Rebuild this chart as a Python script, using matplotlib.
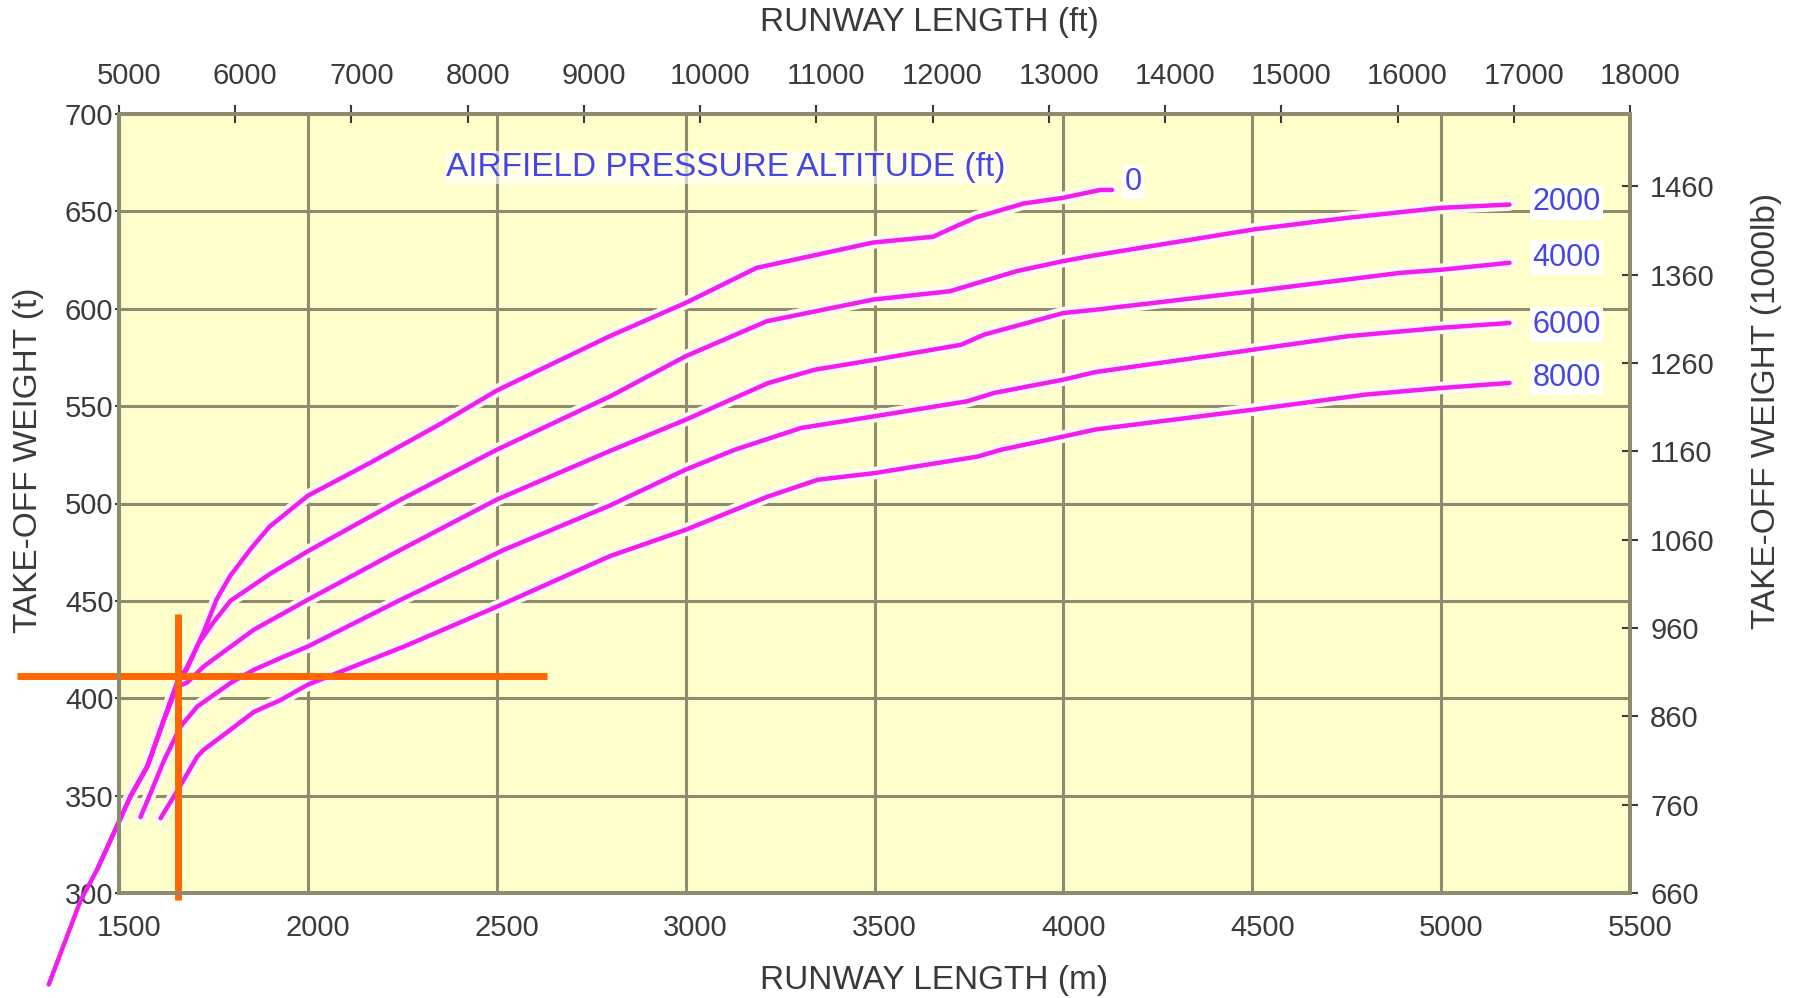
import numpy as np
import matplotlib
matplotlib.use("Agg")
import matplotlib.pyplot as plt
from matplotlib.transforms import ScaledTranslation

plt.rcParams["font.family"] = ["Liberation Sans", "DejaVu Sans"]

# ---------------- data (runway length m, take-off weight t) ----------------
ALTITUDES = ["0", "2000", "4000", "6000", "8000"]

M_0 = [1314, 1398, 1442, 1502, 1530, 1575, 1619, 1654, 1680, 1724, 1759, 1795, 1850, 1898,
       2000, 2166, 2352, 2500, 2800, 3000, 3188, 3496, 3656, 3700, 3770, 3894, 4000, 4097, 4129]
T_0 = [253, 296, 312, 337.5, 349.5, 365, 389, 408, 415, 434, 451, 463, 477, 488,
       504, 521, 541, 558, 586, 603, 621, 634, 637, 641, 647, 654, 657, 661, 661]

M_2000 = [1442, 1502, 1530, 1575, 1619, 1654, 1680, 1710, 1750, 1795, 1901, 2000, 2246, 2500,
          2800, 3000, 3215, 3496, 3700, 3744, 3876, 3998, 4085, 4503, 4753, 4999, 5181]
T_2000 = [312, 337.5, 349.5, 365, 389, 408, 416, 428, 439, 450, 464, 475.5, 502, 527.6,
          555, 575.6, 593.6, 604.7, 609, 611.6, 619.3, 624.4, 627.5, 640.7, 646.7, 651.8, 653.5]

M_4000 = [1530, 1575, 1619, 1654, 1680, 1724, 1857, 2000, 2246, 2500, 2800, 3000, 3218, 3342,
          3500, 3729, 3790, 4000, 4085, 4503, 4890, 4999, 5181]
T_4000 = [349.5, 365, 389, 406, 408, 416.3, 435.2, 450.6, 476.3, 502, 527, 543, 561.8, 568.7,
          573.8, 581.5, 586.7, 597.8, 599.5, 609, 618.4, 620, 623.6]

M_6000 = [1557, 1583, 1619, 1663, 1707, 1795, 1857, 1927, 2000, 2246, 2520, 2800, 3000, 3130,
          3306, 3500, 3746, 3817, 4000, 4085, 4503, 4753, 4999, 5181]
T_6000 = [339, 351, 368, 385.5, 395.7, 407.8, 414.6, 420.6, 426.6, 450.6, 476.3, 499, 517.4, 527.6,
          538.8, 544.8, 552.5, 556.8, 563.6, 567.5, 579, 585.9, 590.2, 592.7]

M_8000 = [1610, 1645, 1671, 1707, 1724, 1795, 1857, 1927, 2000, 2255, 2500, 2800, 3000, 3218,
          3350, 3500, 3773, 3835, 4000, 4085, 4503, 4799, 4999, 5181]
T_8000 = [338.4, 349.5, 358, 370, 373.5, 383.8, 393, 399, 407, 426.6, 447, 473, 486.5, 503.6,
          512.2, 515.6, 524.1, 527.6, 534.4, 538, 548.2, 555.9, 559.3, 561.9]

CURVES = [(M_0, T_0), (M_2000, T_2000), (M_4000, T_4000), (M_6000, T_6000), (M_8000, T_8000)]
LABEL_M = [4184, 5332, 5332, 5332, 5332]
LABEL_T = [665, 654.6, 626.3, 591.9, 564.6]

# reading example (orange cross)
EX_M = 1657
EX_T = 411.5
EX_M_SPAN = [1231, 2634]
EX_T_SPAN = [296.4, 443.4]

X_TICKS_M = list(range(1500, 5501, 500))
Y_TICKS_T = list(range(300, 701, 50))
X_TICKS_FT = list(range(5000, 18001, 1000))
Y_TICKS_KLB = list(range(660, 1461, 100))

# ---------------- styles ----------------
BG = "#FFFFCC"
GRIDC = "#8C8C6E"
MAG = "#F01CF0"
BLUE = "#4646E6"
ORANGE = "#FF6600"
TXT = "#3A3A3A"

fig = plt.figure(figsize=(17.93, 9.98), dpi=100)
ax = fig.add_axes([119 / 1793, 1 - 893 / 998, (1630 - 119) / 1793, (893 - 114) / 998])
ax.set_facecolor(BG)
ax.set_xlim(1500, 5500)
ax.set_ylim(300, 700)
ax.set_xticks(X_TICKS_M)
ax.set_yticks(Y_TICKS_T)
ax.grid(color=GRIDC, lw=2.2, zorder=1)
ax.set_axisbelow(True)
ax.tick_params(axis="x", length=0, pad=15, labelsize=21, labelcolor=TXT)
ax.tick_params(axis="y", length=3, width=1.5, color=TXT, pad=1, labelsize=21, labelcolor=TXT)
for sp in ax.spines.values():
    sp.set_color(GRIDC)
    sp.set_linewidth(2.6)

# halos under the curves (erase grid a bit, like the scan)
for m, t in CURVES:
    ax.plot(m, t, color="#FFF8F0", lw=9, solid_capstyle="round", zorder=2)
for m, t in CURVES:
    ax.plot(m, t, color=MAG, lw=3.2, solid_capstyle="round", zorder=3, clip_on=False)

for lab, lm, lt in zip(ALTITUDES, LABEL_M, LABEL_T):
    ax.text(lm, lt, lab, color=BLUE, fontsize=22, ha="center", va="center", zorder=5,
            bbox=dict(facecolor="white", edgecolor="none", pad=1.5))
ax.text(3107, 672.5, "AIRFIELD PRESSURE ALTITUDE (ft)", color=BLUE, fontsize=24,
        ha="center", va="center", zorder=5,
        bbox=dict(facecolor="white", edgecolor="none", alpha=0.6, pad=1))

ax.plot(EX_M_SPAN, [EX_T, EX_T], color=ORANGE, lw=5, zorder=6, clip_on=False, solid_capstyle="butt")
ax.plot([EX_M, EX_M], EX_T_SPAN, color=ORANGE, lw=5, zorder=6, clip_on=False, solid_capstyle="butt")

# top axis in ft
ax_top = ax.twiny()
ax_top.set_xlim(5000, 18000)
ax_top.set_xticks(X_TICKS_FT)
ax_top.tick_params(axis="x", direction="inout", length=13, width=1.5, color=TXT,
                   pad=11, labelsize=21, labelcolor=TXT)
# right axis in 1000 lb
ax_r = ax.twinx()
ax_r.set_ylim(660, 660 + 400 * 2.20462)
ax_r.set_yticks(Y_TICKS_KLB)
ax_r.tick_params(axis="y", direction="inout", length=11, width=1.5, color=TXT,
                 pad=9, labelsize=21, labelcolor=TXT)
for a in (ax_top, ax_r):
    for sp in a.spines.values():
        sp.set_color(GRIDC)
        sp.set_linewidth(2.6)

shift = ScaledTranslation(10 / 100, 0, fig.dpi_scale_trans)
for lab in ax.get_xticklabels() + ax_top.get_xticklabels():
    lab.set_transform(lab.get_transform() + shift)

fig.text(929 / 1793, 1 - 23 / 998, "RUNWAY LENGTH (ft)", fontsize=24, color=TXT, ha="center", va="center")
fig.text(934 / 1793, 1 - 980 / 998, "RUNWAY LENGTH (m)", fontsize=24, color=TXT, ha="center", va="center")
fig.text(29 / 1793, 1 - 460 / 998, "TAKE-OFF WEIGHT (t)", fontsize=24, color=TXT, ha="center",
         va="center", rotation=90)
fig.text(1767 / 1793, 1 - 411 / 998, "TAKE-OFF WEIGHT (1000lb)", fontsize=24, color=TXT, ha="center",
         va="center", rotation=90)

fig.savefig("out.png", dpi=100, facecolor="white")
